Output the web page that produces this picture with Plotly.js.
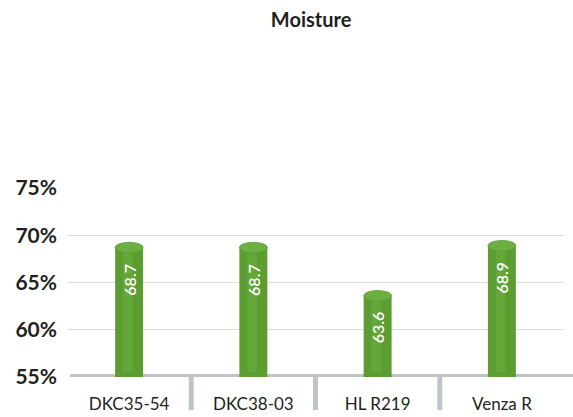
<!DOCTYPE html>
<html>
<head>
<meta charset="utf-8">
<script src="https://cdn.plot.ly/plotly-3.0.1.min.js"></script>
<style>html,body{margin:0;padding:0;background:#fff;}#chart{width:573px;height:417px;}</style>
</head>
<body>
<div id="chart"></div>
<script>
const categories = ["DKC35-54", "DKC38-03", "HL R219", "Venza R"];
const moisture = [68.7, 68.7, 63.6, 68.9];
const yTickVals = [55, 60, 65, 70, 75];
const yTickText = ["55%", "60%", "65%", "70%", "75%"];
const chartTitle = "Moisture";

const FONT = "Lato, 'Open Sans', sans-serif";
const BASE = 55;
const barW = 0.225;
const capH = 0.55;

const traces = [
  {
    type: "bar",
    x: categories,
    y: moisture.map(v => v - BASE),
    base: BASE,
    width: barW,
    marker: {color: "#5b9d31", line: {width: 0}},
    hoverinfo: "skip"
  },
  {
    type: "bar",
    x: categories,
    y: moisture.map(v => v - BASE),
    base: BASE,
    width: barW * 0.35,
    offset: -barW * 0.22,
    marker: {color: "rgba(125,190,75,0.3)", line: {width: 0}},
    hoverinfo: "skip"
  }
];

const shapes = [];
// baseline
shapes.push({type: "line", xref: "paper", yref: "y", x0: 0.006, x1: 1.05, y0: BASE, y1: BASE,
  line: {color: "#bfc4c7", width: 6}, layer: "below"});
// separators
for (let i = 0; i < categories.length - 1; i++) {
  shapes.push({type: "line", xref: "x", yref: "paper", x0: i + 0.5, x1: i + 0.5, y0: 0, y1: -0.175,
    line: {color: "#bfc4c7", width: 5}, layer: "below"});
}
// cylinder caps
moisture.forEach((v, i) => {
  shapes.push({type: "circle", xref: "x", yref: "y", x0: i - barW / 2, x1: i + barW / 2,
    y0: BASE - capH, y1: BASE + capH, fillcolor: "#5b9d31", line: {width: 0}, layer: "above"});
  shapes.push({type: "circle", xref: "x", yref: "y", x0: i - barW / 2, x1: i + barW / 2,
    y0: v - capH, y1: v + capH, fillcolor: "#6cb043", line: {color: "#5b9d31", width: 0.8}, layer: "above"});
});

const annotations = moisture.map((v, i) => ({
  x: categories[i], y: v, xref: "x", yref: "y",
  text: v.toFixed(1), showarrow: false, textangle: -90,
  yanchor: "top", xanchor: "center", yshift: -14,
  font: {family: FONT, size: 16, color: "#ffffff", weight: 600}
}));

const layout = {
  width: 573, height: 417,
  margin: {l: 67, r: 9, t: 188, b: 40},
  paper_bgcolor: "#ffffff", plot_bgcolor: "#ffffff",
  showlegend: false,
  barmode: "overlay",
  title: {text: chartTitle, x: 0.543, xanchor: "center", y: 0.952, yanchor: "middle", yref: "container",
    font: {family: FONT, size: 20, color: "#231f20", weight: 700}},
  xaxis: {
    type: "category", range: [-0.5, 3.5], showgrid: false, zeroline: false, showline: false,
    ticks: "", tickfont: {family: FONT, size: 17, color: "#231f20"}, ticklabelstandoff: 15
  },
  yaxis: {
    range: [BASE, 75], tickvals: yTickVals, ticktext: yTickText,
    showgrid: true, gridcolor: "#dcdcdc", gridwidth: 1, zeroline: false, showline: false,
    ticks: "", tickfont: {family: FONT, size: 21, color: "#231f20", weight: 700}, ticklabelstandoff: 9
  },
  shapes: shapes,
  annotations: annotations
};

Plotly.newPlot("chart", traces, layout, {displayModeBar: false, staticPlot: true});
</script>
</body>
</html>
